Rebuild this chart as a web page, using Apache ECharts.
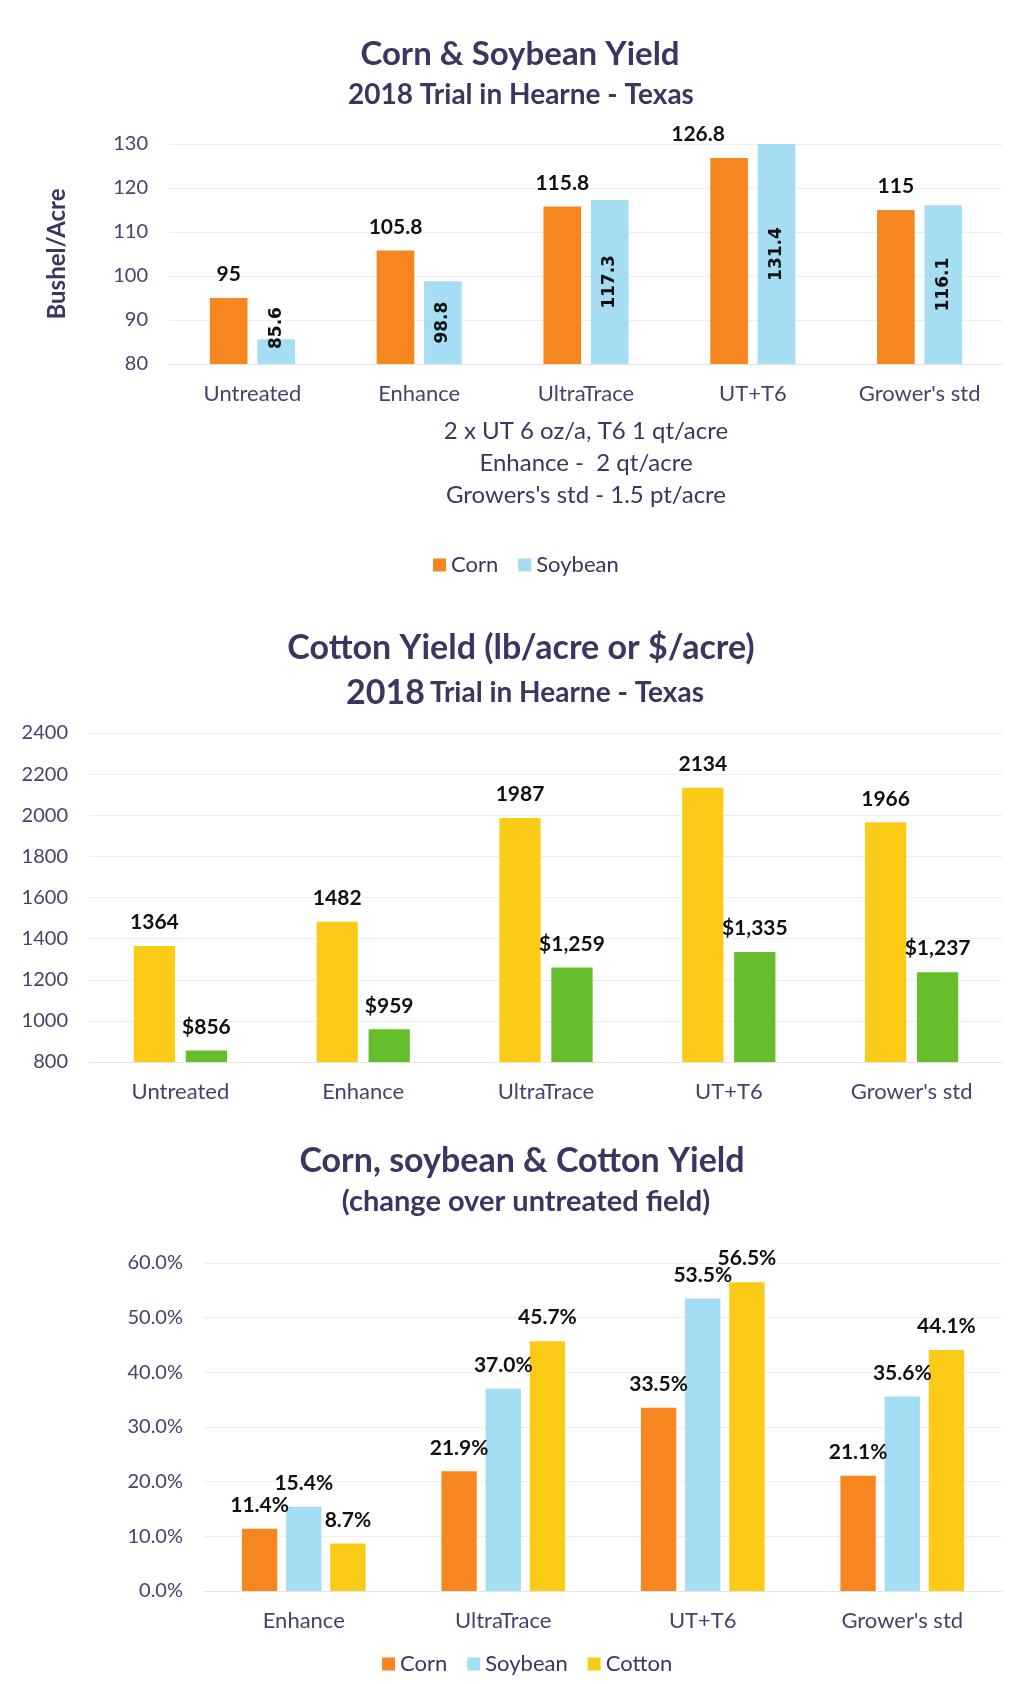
<!DOCTYPE html>
<html>
<head>
<meta charset="utf-8">
<script src="https://cdn.jsdelivr.net/npm/echarts@6/dist/echarts.min.js"></script>
<style>
  html, body { margin: 0; padding: 0; background: #fff; }
  #main { width: 1026px; height: 1684px; }
</style>
</head>
<body>
<div id="main"></div>
<script>
// chart 1 - corn & soybean yield (bushel/acre)
const cats1 = ['Untreated', 'Enhance', 'UltraTrace', 'UT+T6', "Grower's std"]
const corn1 = [95, 105.8, 115.8, 126.8, 115]
const soy1 = [85.6, 98.8, 117.3, 131.4, 116.1]

// chart 2 - cotton yield (lb/acre and $/acre)
const cats2 = ['Untreated', 'Enhance', 'UltraTrace', 'UT+T6', "Grower's std"]
const cottonLb = [1364, 1482, 1987, 2134, 1966]
const cottonUsd = [856, 959, 1259, 1335, 1237]

// chart 3 - change over untreated (%)
const cats3 = ['Enhance', 'UltraTrace', 'UT+T6', "Grower's std"]
const cornPct = [11.4, 21.9, 33.5, 21.1]
const soyPct = [15.4, 37.0, 53.5, 35.6]
const cottonPct = [8.7, 45.7, 56.5, 44.1]

const FONT = 'Lato'
const NAVY = '#3b3660'
const AXIS = '#45436a'
const ORANGE = '#f6861f'
const BLUE = '#a5ddf3'
const YELLOW = '#fbcb17'
const GREEN = '#66bd2b'

const topLabel = {
  show: true, position: 'top', distance: 13,
  color: '#111', fontFamily: FONT, fontWeight: 'bold', fontSize: 21
}

function catAxis(idx, data) {
  return {
    type: 'category', gridIndex: idx, data: data,
    axisTick: { show: false },
    axisLine: { lineStyle: { color: '#e4e4e4' } },
    axisLabel: { color: AXIS, fontFamily: FONT, fontSize: 22, margin: 19 }
  }
}

function valAxis(idx, min, max, interval, fmt) {
  return {
    type: 'value', gridIndex: idx, min: min, max: max, interval: interval,
    axisLine: { show: false }, axisTick: { show: false },
    splitLine: { lineStyle: { color: '#efefef' } },
    axisLabel: { color: AXIS, fontFamily: FONT, fontSize: 20, margin: 21, formatter: fmt }
  }
}

const option = {
  backgroundColor: '#fff',
  animation: false,
  title: [
    { text: 'Corn & Soybean Yield', left: 515, top: 33, textAlign: 'center',
      textStyle: { color: NAVY, fontFamily: FONT, fontSize: 33, fontWeight: 'bold' } },
    { text: '2018 Trial in Hearne - Texas', left: 516, top: 76, textAlign: 'center',
      textStyle: { color: NAVY, fontFamily: FONT, fontSize: 28, fontWeight: 'bold' } },
    { text: 'Cotton Yield (lb/acre or $/acre)', left: 516, top: 626, textAlign: 'center',
      textStyle: { color: NAVY, fontFamily: FONT, fontSize: 34, fontWeight: 'bold' } },
    { text: '{big|2018} {sm|Trial in Hearne - Texas}', left: 520, top: 671, textAlign: 'center',
      textStyle: { rich: {
        big: { color: NAVY, fontFamily: FONT, fontSize: 34, fontWeight: 'bold' },
        sm: { color: NAVY, fontFamily: FONT, fontSize: 28, fontWeight: 'bold' }
      } } },
    { text: 'Corn, soybean & Cotton Yield', left: 517, top: 1139, textAlign: 'center',
      textStyle: { color: NAVY, fontFamily: FONT, fontSize: 34, fontWeight: 'bold' } },
    { text: '(change over untreated field)', left: 521, top: 1182, textAlign: 'center',
      textStyle: { color: NAVY, fontFamily: FONT, fontSize: 29, fontWeight: 'bold' } }
  ],
  legend: [
    { data: ['Corn', 'Soybean'], left: 428, top: 549, icon: 'rect',
      itemWidth: 13, itemHeight: 13, itemGap: 20,
      textStyle: { color: NAVY, fontFamily: FONT, fontSize: 22 } },
    { data: ['Corn', 'Soybean', 'Cotton'], left: 377, top: 1648, icon: 'rect',
      itemWidth: 13, itemHeight: 13, itemGap: 20,
      textStyle: { color: NAVY, fontFamily: FONT, fontSize: 22 } }
  ],
  grid: [
    { left: 169, top: 144, width: 834, height: 220 },
    { left: 89, top: 733, width: 914, height: 329 },
    { left: 204, top: 1263, width: 798, height: 328 }
  ],
  xAxis: [
    Object.assign(catAxis(0, cats1), {
      name: "2 x UT 6 oz/a, T6 1 qt/acre\nEnhance -  2 qt/acre\nGrowers's std - 1.5 pt/acre",
      nameLocation: 'middle', nameGap: 51,
      nameTextStyle: { color: NAVY, fontFamily: FONT, fontSize: 24, lineHeight: 32 }
    }),
    catAxis(1, cats2),
    catAxis(2, cats3)
  ],
  yAxis: [
    Object.assign(valAxis(0, 80, 130, 10), {
      name: 'Bushel/Acre', nameLocation: 'middle', nameGap: 100,
      nameTextStyle: { color: NAVY, fontFamily: FONT, fontSize: 24, fontWeight: 'bold' }
    }),
    valAxis(1, 800, 2400, 200, v => String(v)),
    valAxis(2, 0, 60, 10, v => v.toFixed(1) + '%')
  ],
  series: [
    { name: 'Corn', type: 'bar', xAxisIndex: 0, yAxisIndex: 0, data: corn1,
      itemStyle: { color: ORANGE }, barGap: '26%', barCategoryGap: '49%',
      label: topLabel,
      // the UT+T6 label was dragged left of its bar in the original
      labelLayout: p => p.dataIndex === 3 ? { dx: -31 } : {} },
    { name: 'Soybean', type: 'bar', xAxisIndex: 0, yAxisIndex: 0, data: soy1,
      itemStyle: { color: BLUE }, barGap: '26%', barCategoryGap: '49%',
      label: { show: true, position: 'inside', rotate: 90, color: '#111',
        fontFamily: 'DejaVu Sans', fontWeight: 'bold', fontSize: 17 },
      // keep short-bar labels clear of the axis (label is rotated, so dx moves it up)
      labelLayout: p => {
        let bottom = p.labelRect.y + p.labelRect.height
        let limit = p.rect.y + p.rect.height - 15
        return bottom > limit ? { dx: bottom - limit } : {}
      } },

    { name: 'Cotton lb', type: 'bar', xAxisIndex: 1, yAxisIndex: 1, data: cottonLb,
      itemStyle: { color: YELLOW }, barGap: '26%', barCategoryGap: '49%',
      label: topLabel },
    { name: 'Cotton $', type: 'bar', xAxisIndex: 1, yAxisIndex: 1, data: cottonUsd,
      itemStyle: { color: GREEN }, barGap: '26%', barCategoryGap: '49%',
      label: Object.assign({}, topLabel, {
        formatter: p => '$' + p.value.toLocaleString('en-US')
      }) },

    { name: 'Corn', type: 'bar', xAxisIndex: 2, yAxisIndex: 2, data: cornPct,
      itemStyle: { color: ORANGE }, barGap: '25%', barCategoryGap: '38%',
      label: Object.assign({}, topLabel, { formatter: p => p.value.toFixed(1) + '%' }) },
    { name: 'Soybean', type: 'bar', xAxisIndex: 2, yAxisIndex: 2, data: soyPct,
      itemStyle: { color: BLUE }, barGap: '25%', barCategoryGap: '38%',
      label: Object.assign({}, topLabel, { formatter: p => p.value.toFixed(1) + '%' }) },
    { name: 'Cotton', type: 'bar', xAxisIndex: 2, yAxisIndex: 2, data: cottonPct,
      itemStyle: { color: YELLOW }, barGap: '25%', barCategoryGap: '38%',
      label: Object.assign({}, topLabel, { formatter: p => p.value.toFixed(1) + '%' }) }
  ]
}

let chart = echarts.init(document.getElementById('main'))
chart.setOption(option)
</script>
</body>
</html>
